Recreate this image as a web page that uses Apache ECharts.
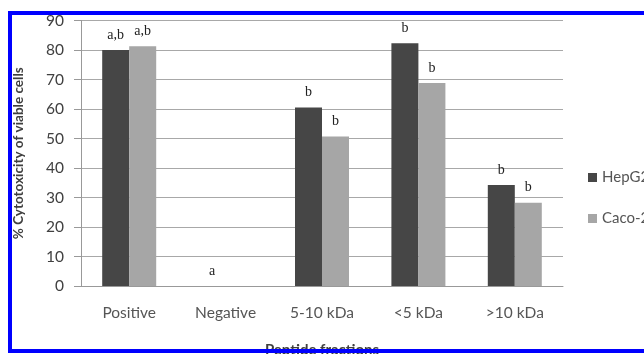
<!DOCTYPE html>
<html>
<head>
<meta charset="utf-8">
<script src="https://cdn.jsdelivr.net/npm/echarts@6/dist/echarts.min.js"></script>
<style>
html,body{margin:0;padding:0;background:#fff;overflow:hidden;}
#wrap{position:relative;width:644px;height:354px;overflow:hidden;}
#c{position:absolute;left:0;top:0;width:644px;height:354px;}
#frame{position:absolute;left:8px;top:11px;width:720px;height:334px;border:4px solid #0000ff;border-right:none;pointer-events:none;z-index:10;}
</style>
</head>
<body>
<div id="wrap"><div id="c"></div><div id="frame"></div></div>
<script>
var categories = ['Positive', 'Negative', '5-10 kDa', '<5 kDa', '>10 kDa'];
var hepG2 = [80, 0, 60.5, 82.3, 34.2];
var caco2 = [81.3, 0, 50.7, 68.8, 28.2];
var hepLetters = ['a,b', 'a', 'b', 'b', 'b'];
var cacoLetters = ['a,b', '', 'b', 'b', 'b'];
var yTicks = [0, 10, 20, 30, 40, 50, 60, 70, 80, 90];

var chart = echarts.init(document.getElementById('c'));
var labelStyle = {
  show: true, position: 'top', distance: 8,
  fontFamily: 'Liberation Serif', fontSize: 14, color: '#222'
};
chart.setOption({
  animation: false,
  grid: {left: 81, right: 81, top: 20.5, bottom: 68, containLabel: false, outerBoundsMode: 'none'},
  legend: {
    orient: 'vertical', left: 583, top: 165, itemWidth: 9, itemHeight: 9, itemGap: 26,
    icon: 'rect',
    textStyle: {fontFamily: 'Lato', fontSize: 15, color: '#555'},
    data: ['HepG2', 'Caco-2']
  },
  xAxis: {
    type: 'category', data: categories,
    name: 'Peptide fractions', nameLocation: 'middle', nameGap: 57,
    nameTextStyle: {fontFamily: 'Lato', fontWeight: 'bold', fontSize: 15, color: '#404040'},
    axisLine: {lineStyle: {color: '#999'}},
    axisTick: {show: false},
    axisLabel: {margin: 19, fontFamily: 'Lato', fontSize: 15.5, color: '#555'}
  },
  yAxis: {
    type: 'value', min: yTicks[0], max: yTicks[yTicks.length - 1], interval: 10,
    name: '% Cytotoxicity of viable cells', nameLocation: 'middle', nameGap: 55, nameRotate: 90,
    nameTextStyle: {fontFamily: 'Lato', fontWeight: 'bold', fontSize: 13.5, color: '#404040'},
    axisLine: {show: true, lineStyle: {color: '#999'}},
    axisTick: {show: true, length: 7, lineStyle: {color: '#999'}},
    axisLabel: {margin: 17, fontFamily: 'Lato', fontSize: 15.5, color: '#404040'},
    splitLine: {lineStyle: {color: '#a8a8a8'}}
  },
  series: [
    {
      name: 'HepG2', type: 'bar', data: hepG2, barWidth: 27, barGap: '0%',
      itemStyle: {color: '#464646'},
      label: Object.assign({}, labelStyle, {formatter: function (p) { return hepLetters[p.dataIndex]; }})
    },
    {
      name: 'Caco-2', type: 'bar', data: caco2, barWidth: 27, barGap: '0%',
      itemStyle: {color: '#a6a6a6'},
      label: Object.assign({}, labelStyle, {formatter: function (p) { return cacoLetters[p.dataIndex]; }})
    }
  ]
});
</script>
</body>
</html>
